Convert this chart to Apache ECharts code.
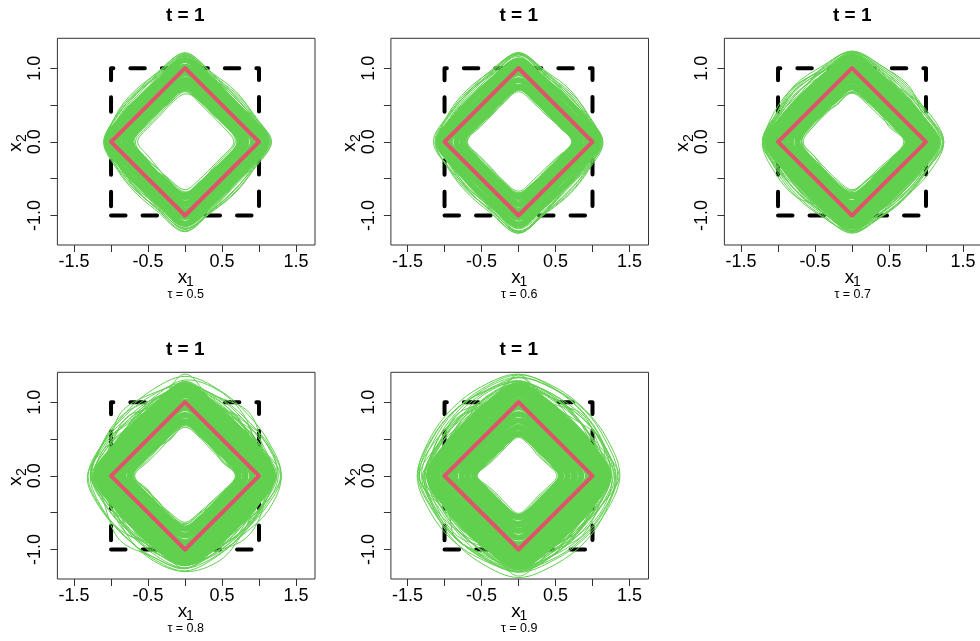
<!DOCTYPE html>
<html>
<head>
<meta charset="utf-8">
<script src="https://cdn.jsdelivr.net/npm/echarts@6/dist/echarts.min.js"></script>
<style>
html, body { margin: 0; padding: 0; background: #ffffff; }
#chart { width: 980px; height: 641px; }
</style>
</head>
<body>
<div id="chart"></div>
<script>
// Angles (degrees, counter-clockwise from the positive x1 axis) at which each contour radius is given.
const sampleAngles = [0, 22.5, 45, 67.5, 90, 112.5, 135, 157.5, 180, 202.5, 225, 247.5, 270, 292.5, 315, 337.5];

const tauValues = [0.5, 0.6, 0.7, 0.8, 0.9];
const panelTitle = 't = 1';

const xTicks = [-1.5, -1, -0.5, 0, 0.5, 1, 1.5];
const xTickLabels = [-1.5, -0.5, 0.5, 1.5];
const yTicks = [-1, -0.5, 0, 0.5, 1];
const yTickLabels = [-1, 0, 1];

// True level set |x1| + |x2| = 1 and the square [-1, 1]^2.
const diamondX1 = [1, 0, -1, 0, 1];
const diamondX2 = [0, 1, 0, -1, 0];
const squareX1 = [-1, 1, 1, -1, -1];
const squareX2 = [-1, -1, 1, 1, -1];

// Estimated contours, radius x 100 at each sample angle.
// "core" contours sit in the dense middle of each band, "curves" spread over the whole band.
const coreTau05 = [
  [75,62,57,62,76,61,57,62,74,62,58,61,75,62,57,62],
  [83,68,63,69,84,68,64,68,82,69,63,68,84,69,63,68],
  [92,76,70,76,93,75,70,76,90,76,71,75,93,76,70,76],
  [101,83,77,83,102,83,77,83,98,83,78,83,102,84,77,83],
  [109,90,84,91,111,90,84,90,106,91,85,90,111,91,84,91]
];
const curvesTau05 = [
  [70,59,53,59,65,54,49,53,64,53,51,58,69,60,55,61],
  [66,55,51,55,69,60,55,58,69,57,52,55,65,54,50,54],
  [68,60,56,58,68,56,51,55,67,58,55,59,70,58,52,56],
  [72,58,53,57,70,59,56,60,70,57,52,56,68,59,56,61],
  [71,61,57,60,72,58,53,57,72,61,57,59,71,57,53,59],
  [75,63,56,58,71,60,57,62,75,62,55,58,72,62,58,63],
  [77,62,58,64,76,61,56,60,73,60,58,63,77,64,59,62],
  [80,68,61,62,76,66,61,63,78,65,60,65,79,63,59,66],
  [86,71,66,71,88,72,65,69,84,70,67,73,88,71,64,70],
  [91,78,71,74,90,76,73,78,90,75,70,75,93,79,72,75],
  [97,80,73,79,99,81,75,80,94,79,75,81,96,78,73,80],
  [101,84,79,84,103,83,77,82,98,84,79,83,103,86,79,84],
  [106,89,81,86,108,91,84,88,101,86,81,88,109,89,83,90],
  [109,91,85,92,112,89,83,90,104,90,86,92,112,92,84,89],
  [112,95,86,90,114,95,88,93,103,89,85,93,115,96,88,93],
  [110,96,90,95,117,93,86,92,106,94,90,95,114,93,87,95],
  [115,94,88,96,118,98,90,94,107,92,88,96,119,97,89,94],
  [113,98,93,94,116,96,93,98,109,97,91,94,117,99,94,97],
  [117,97,90,98,121,99,92,95,106,93,92,99,121,98,90,96],
  [114,100,95,97,119,97,95,99,108,98,94,97,118,100,96,99],
  [112,99,97,100,120,101,94,97,110,99,96,101,122,99,93,98],
  [116,96,92,99,117,100,97,100,105,95,93,98,118,101,97,100],
  [74,58,60,66,70,56,58,64,72,57,57,65,70,57,60,65],
  [84,64,63,72,80,65,62,70,82,64,64,71,81,66,62,70]
];

const coreTau06 = [
  [76,62,57,62,75,62,57,62,76,62,57,62,75,62,58,62],
  [84,69,64,69,84,69,64,69,84,69,64,69,85,69,64,69],
  [92,77,71,77,93,77,71,76,93,77,71,77,94,77,71,77],
  [100,84,78,84,102,84,78,84,101,84,78,84,103,85,78,84],
  [107,92,86,91,110,91,86,91,108,91,86,92,112,92,86,91]
];
const curvesTau06 = [
  [74,58,52,56,68,56,51,55,70,56,52,56,67,55,51,56],
  [77,60,54,58,71,58,53,57,69,55,51,57,69,58,54,59],
  [72,58,55,60,70,56,52,57,72,59,55,58,71,58,53,57],
  [79,63,57,60,72,59,56,61,74,62,57,60,70,59,56,62],
  [76,61,58,63,75,62,56,59,71,59,57,62,74,62,59,63],
  [82,66,60,63,77,64,60,65,78,64,59,63,75,63,60,66],
  [80,67,62,67,81,65,60,64,76,63,61,66,79,67,63,67],
  [86,70,63,67,82,69,64,69,83,70,64,67,80,67,63,70],
  [89,73,68,74,90,74,67,71,86,71,68,75,90,74,67,72],
  [94,79,72,76,93,77,74,79,93,77,71,76,95,80,74,77],
  [99,82,75,81,101,83,77,81,96,80,77,83,99,80,75,82],
  [102,86,81,86,106,85,78,84,101,86,81,85,106,88,81,86],
  [106,90,83,88,110,93,86,90,104,88,83,90,112,91,85,91],
  [109,92,87,94,114,91,85,92,107,93,88,94,116,94,86,91],
  [111,96,88,92,116,97,90,95,106,91,87,95,118,98,90,95],
  [108,97,92,97,119,95,88,94,110,96,92,97,117,95,89,97],
  [113,95,90,98,120,100,92,96,111,94,90,98,122,99,91,96],
  [112,99,95,96,118,98,95,100,113,99,93,96,121,101,96,99],
  [114,98,92,100,121,101,94,97,109,95,94,101,124,100,92,98],
  [111,101,97,99,121,99,97,101,115,100,96,99,123,102,98,101],
  [110,100,99,102,120,103,96,99,112,101,98,103,124,101,95,100],
  [114,97,94,101,118,102,99,102,108,97,95,100,121,103,99,102],
  [75,58,61,67,71,57,59,65,73,58,58,66,70,58,61,66],
  [86,65,64,73,82,66,63,71,84,65,65,72,82,67,63,71]
];

const coreTau07 = [
  [76,62,57,62,74,62,57,62,74,62,57,62,74,62,57,62],
  [84,69,64,69,83,69,64,69,83,69,64,69,83,69,64,69],
  [92,77,71,77,91,77,71,77,91,77,71,77,91,77,71,77],
  [100,84,78,84,100,84,78,84,99,84,78,84,100,84,78,84],
  [108,91,85,91,108,91,85,91,107,91,85,91,108,91,85,91],
  [114,97,91,97,115,97,91,97,114,97,91,97,115,97,91,97]
];
const curvesTau07 = [
  [72,56,51,55,66,55,52,56,66,54,51,55,65,55,51,57],
  [70,58,54,58,68,57,53,56,69,57,53,57,67,56,53,58],
  [74,59,54,57,67,58,55,60,68,58,55,59,69,59,54,58],
  [73,61,57,61,71,59,55,59,71,60,57,61,70,60,56,59],
  [77,62,57,60,72,61,58,62,73,61,57,60,71,62,58,61],
  [79,65,60,64,75,62,58,63,76,65,61,64,74,63,59,63],
  [81,66,61,66,78,66,62,65,77,64,61,66,77,66,62,66],
  [85,70,64,68,82,70,65,70,81,68,64,68,81,69,65,70],
  [89,74,69,74,88,72,67,72,86,73,69,75,87,74,68,73],
  [96,80,74,78,95,80,75,80,93,78,74,79,96,80,75,79],
  [102,85,80,86,104,87,81,86,101,85,79,85,103,87,81,86],
  [107,92,86,90,109,91,87,93,108,93,88,92,111,92,86,91],
  [112,95,90,96,114,97,92,96,111,95,90,96,113,97,92,96],
  [114,100,95,98,118,99,95,100,115,100,96,98,117,100,96,100],
  [118,101,96,102,121,103,99,103,117,101,97,103,120,103,97,102],
  [120,104,100,103,119,104,103,106,120,105,101,103,122,105,100,104],
  [122,106,102,106,123,107,105,106,119,104,101,106,124,107,103,106],
  [124,107,104,108,121,106,107,108,121,107,104,108,123,108,104,107],
  [119,108,106,110,122,110,109,109,117,109,106,109,121,109,105,108],
  [123,104,99,106,118,103,104,108,121,106,100,104,120,104,101,107],
  [72,54,55,62,68,54,55,61,68,54,54,61,67,55,55,61],
  [83,62,61,69,80,62,61,69,80,62,62,69,80,62,61,69],
  [104,90,79,88,110,88,82,92,106,88,81,88,108,92,80,90],
  [113,94,93,100,116,96,91,101,112,97,92,99,118,98,91,100],
  [118,100,96,104,120,99,100,105,116,103,97,101,121,101,96,103],
  [97,85,73,82,100,86,75,85,98,82,75,86,99,87,73,83],
  [110,96,86,95,114,94,88,97,111,95,87,94,113,96,86,96],
  [116,101,97,99,119,104,99,103,119,99,98,104,118,104,97,101],
  [124,110,98,96,112,104,108,112,118,100,94,102,116,108,104,112],
  [108,102,108,110,123,108,96,104,121,112,106,96,110,100,99,104]
];

const coreTau08 = [
  [73,61,56,61,74,61,56,61,75,61,56,61,72,61,56,61],
  [82,68,63,68,83,68,63,68,84,68,63,68,81,68,63,68],
  [91,76,70,76,92,76,70,76,92,76,70,76,90,76,70,76],
  [100,83,77,83,101,83,77,83,100,83,77,83,99,83,77,83],
  [108,90,84,90,110,90,84,90,108,90,84,90,107,90,84,90],
  [114,97,91,97,117,97,91,97,115,97,91,97,113,97,91,97],
  [119,103,97,103,123,103,97,103,120,103,97,103,118,103,97,103]
];
const curvesTau08 = [
  [68,54,50,55,66,54,49,53,68,55,51,54,63,53,50,55],
  [70,55,52,57,68,57,52,55,70,54,50,56,65,55,51,56],
  [72,58,53,56,70,55,53,58,71,57,53,55,68,57,53,57],
  [69,53,55,60,69,53,54,60,69,53,54,59,66,54,55,60],
  [75,59,56,60,73,60,55,59,74,60,56,60,71,59,56,60],
  [78,62,58,64,76,61,59,63,77,63,58,62,74,62,58,63],
  [80,60,61,68,79,62,60,67,80,61,60,68,78,61,61,66],
  [83,67,62,66,81,68,63,67,82,66,63,68,80,68,62,67],
  [88,73,67,73,90,72,68,74,89,73,68,72,88,73,67,73],
  [96,82,74,79,98,83,76,83,95,80,75,84,95,84,74,80],
  [100,82,78,86,106,84,80,88,103,86,77,83,101,86,79,85],
  [110,95,88,94,115,93,91,97,112,95,89,93,110,96,90,95],
  [114,100,96,98,118,101,95,103,116,97,97,102,114,101,95,98],
  [118,103,97,104,122,102,102,104,119,104,98,103,117,103,100,103],
  [121,104,103,106,126,108,103,106,122,105,104,108,120,108,103,106],
  [124,110,104,110,128,107,108,111,125,110,106,108,122,108,107,111],
  [126,118,113,116,122,110,101,103,110,100,96,102,114,108,107,115],
  [113,106,105,113,126,118,115,119,127,114,107,107,114,102,97,101],
  [119,106,98,100,107,98,94,101,113,108,106,114,125,116,111,113],
  [120,108,103,108,119,111,108,116,128,120,115,120,129,117,110,112],
  [121,110,104,105,110,98,91,94,103,95,94,101,114,108,107,112],
  [130,122,119,125,135,124,117,119,126,113,107,111,121,112,109,117],
  [113,103,99,106,119,113,111,119,131,121,116,118,125,111,103,105],
  [119,113,110,115,123,111,103,104,109,97,90,95,105,99,97,106],
  [129,108,98,108,124,110,104,118,128,106,101,110,122,108,100,112],
  [112,106,110,102,128,104,112,108,115,109,111,104,126,107,108,106],
  [120,100,106,112,120,104,99,110,124,110,104,103,118,112,106,100],
  [118,110,99,104,138,102,106,114,122,101,108,112,116,104,102,110],
  [108,98,92,98,112,100,94,100,110,99,92,98,111,98,93,99],
  [130,118,104,100,116,112,118,120,126,110,100,106,120,114,112,122],
  [106,112,122,116,124,106,100,112,132,122,112,100,108,110,118,114],
  [116,104,114,124,130,114,104,100,114,116,124,118,126,106,98,104],
  [124,120,108,106,122,120,122,110,110,104,112,122,130,124,110,104]
];

const coreTau09 = [
  [58,49,45,49,57,49,45,49,60,49,45,49,56,49,45,49],
  [67,56,52,56,66,56,52,56,69,56,52,56,66,56,52,56],
  [76,64,59,64,75,64,59,64,77,64,59,64,75,64,59,64],
  [85,71,66,71,84,71,66,71,86,71,66,71,84,71,66,71],
  [94,79,73,79,93,79,73,79,94,79,73,79,93,79,73,79],
  [102,86,80,86,102,86,80,86,102,86,80,86,102,86,80,86],
  [110,94,87,94,110,94,87,94,110,94,87,94,110,94,87,94],
  [116,100,94,100,117,100,94,100,116,100,94,100,117,100,94,100],
  [121,106,100,106,123,106,100,106,121,106,100,106,123,106,100,106]
];
const curvesTau09 = [
  [52,42,38,43,52,43,39,43,56,42,38,42,51,42,38,42],
  [55,43,40,45,54,45,41,44,57,44,40,45,53,44,40,44],
  [54,45,42,45,56,43,42,46,58,46,42,44,55,46,42,45],
  [58,46,44,50,56,46,45,49,59,46,43,49,56,46,44,48],
  [60,49,45,48,59,49,46,49,61,48,46,49,58,48,45,49],
  [63,51,47,52,61,51,48,52,64,51,48,52,60,52,47,51],
  [65,50,50,56,63,51,49,56,66,51,50,55,62,51,50,56],
  [68,55,51,55,66,55,52,56,69,55,52,55,65,55,51,56],
  [72,58,55,59,70,58,55,58,72,59,55,59,70,58,56,59],
  [80,65,61,66,78,66,62,65,80,65,61,66,78,66,61,65],
  [88,72,68,73,86,72,68,73,88,73,68,72,86,72,68,73],
  [96,80,75,80,95,80,76,81,96,80,75,80,94,81,75,80],
  [106,90,86,91,108,92,86,90,107,90,87,92,106,91,86,90],
  [112,98,93,97,114,97,94,99,113,98,93,97,113,98,94,98],
  [117,103,99,104,120,104,100,103,118,102,100,104,119,103,99,104],
  [121,108,105,108,125,108,106,109,123,109,105,108,124,109,105,108],
  [125,113,110,113,129,114,111,113,127,113,111,114,128,114,110,113],
  [134,127,126,127,133,122,117,116,122,113,110,113,123,118,119,124],
  [118,112,112,118,129,124,124,127,134,124,120,118,123,112,108,110],
  [132,121,116,115,122,114,113,117,128,123,124,129,138,130,127,127],
  [131,122,116,115,118,108,103,105,113,108,108,115,126,122,121,125],
  [128,123,123,128,138,131,128,130,136,125,120,120,126,117,114,118],
  [114,105,101,104,113,109,109,116,126,121,119,122,127,117,111,110],
  [137,130,127,130,137,128,123,124,131,122,119,122,131,124,123,128],
  [125,120,118,120,125,115,108,107,111,102,98,102,111,107,108,115],
  [119,111,111,116,127,123,124,128,137,129,125,124,129,118,112,112],
  [125,122,122,127,134,126,120,120,123,112,106,107,114,108,108,114],
  [130,112,104,115,122,108,112,122,135,112,104,110,126,114,106,118],
  [118,116,120,108,134,110,118,114,122,118,116,108,136,112,118,116],
  [126,108,112,120,126,116,104,114,128,120,110,106,122,110,114,122],
  [114,122,108,104,137,106,114,120,118,104,120,116,130,118,104,110],
  [124,104,98,110,118,112,108,104,130,108,100,112,124,104,110,108],
  [108,100,96,102,116,102,98,104,112,101,97,103,114,102,96,101],
  [136,115,110,118,128,120,112,116,134,116,113,120,130,118,111,117]
];

const coreByPanel = [coreTau05, coreTau06, coreTau07, coreTau08, coreTau09];
const curvesByPanel = [curvesTau05, curvesTau06, curvesTau07, curvesTau08, curvesTau09];

// ---- styling / layout ----
const GREEN = '#61D04F';
const RED = '#DF536B';
const FONT = '"Liberation Sans", Arial, Helvetica, sans-serif';
const PANEL_STEP_X = 333.5;
const PANEL_STEP_Y = 334;
const BOX_LEFT = 57.4;
const BOX_TOP = 38.3;
const BOX_W = 257.6;
const BOX_H = 206.7;
const X_MIN = -1.725, X_MAX = 1.757;
const Y_MIN = -1.40, Y_MAX = 1.405;

const chart = echarts.init(document.getElementById('chart'), null, { renderer: 'canvas' });

const grids = [], xAxes = [], yAxes = [], series = [], graphics = [];

function contourSeries(list, panel, lineWidth) {
  return {
    type: 'custom',
    xAxisIndex: panel,
    yAxisIndex: panel,
    coordinateSystem: 'cartesian2d',
    silent: true,
    clip: true,
    z: 2,
    data: list.map(() => [0, 0]),
    renderItem: function (params, api) {
      const radii = list[params.dataIndex];
      const pts = radii.map(function (r, k) {
        const a = sampleAngles[k] * Math.PI / 180;
        return api.coord([r / 100 * Math.cos(a), r / 100 * Math.sin(a)]);
      });
      return {
        type: 'polygon',
        shape: { points: pts, smooth: 0.35 },
        style: { fill: 'none', stroke: GREEN, lineWidth: lineWidth }
      };
    }
  };
}

tauValues.forEach(function (tau, i) {
  const col = i % 3, row = Math.floor(i / 3);
  const left = BOX_LEFT + PANEL_STEP_X * col;
  const top = BOX_TOP + PANEL_STEP_Y * row;
  const cx = left + BOX_W / 2;

  grids.push({
    left: left, top: top, width: BOX_W, height: BOX_H,
    show: true, borderColor: '#333', borderWidth: 1, backgroundColor: 'transparent',
    containLabel: false, outerBoundsMode: 'none'
  });

  xAxes.push({
    gridIndex: i, type: 'value', min: X_MIN, max: X_MAX,
    axisLine: { show: false, onZero: false },
    splitLine: { show: false },
    axisTick: { show: true, length: 7, customValues: xTicks, lineStyle: { color: '#333', width: 1 } },
    axisLabel: {
      customValues: xTickLabels,
      formatter: function (v) { return Number(v).toFixed(1); },
      fontFamily: FONT, fontSize: 18, color: '#000', margin: 8
    }
  });

  yAxes.push({
    gridIndex: i, type: 'value', min: Y_MIN, max: Y_MAX,
    axisLine: { show: false, onZero: false },
    splitLine: { show: false },
    axisTick: { show: true, length: 7, customValues: yTicks, lineStyle: { color: '#333', width: 1 } },
    axisLabel: {
      customValues: yTickLabels,
      formatter: function (v) { return Number(v).toFixed(1); },
      rotate: 90, align: 'center', verticalAlign: 'bottom',
      fontFamily: FONT, fontSize: 18, color: '#000', margin: 13
    }
  });

  // dashed square underneath the contours
  series.push({
    type: 'line', xAxisIndex: i, yAxisIndex: i, silent: true, z: 1,
    symbol: 'none', showSymbol: false, animation: false,
    data: squareX1.map(function (x, k) { return [x, squareX2[k]]; }),
    lineStyle: { color: '#000', width: 4, type: [14.5, 17], dashOffset: 0, cap: 'round', join: 'round' }
  });

  series.push(contourSeries(coreByPanel[i], i, 6));
  series.push(contourSeries(curvesByPanel[i], i, 1));

  // true level set on top
  series.push({
    type: 'line', xAxisIndex: i, yAxisIndex: i, silent: true, z: 3,
    symbol: 'none', showSymbol: false, animation: false,
    data: diamondX1.map(function (x, k) { return [x, diamondX2[k]]; }),
    lineStyle: { color: RED, width: 4, cap: 'round', join: 'round' }
  });

  // panel title
  graphics.push({
    type: 'text', x: cx - 1, y: top - 23, silent: true,
    style: { text: panelTitle, font: 'bold 19px ' + FONT, fill: '#000', align: 'center', verticalAlign: 'middle' }
  });
  // x1 axis title with subscript
  graphics.push({
    type: 'text', x: left + 125.1, y: top + 239.5, silent: true,
    style: { text: 'x', font: '19px ' + FONT, fill: '#000', align: 'center', verticalAlign: 'middle' }
  });
  graphics.push({
    type: 'text', x: left + 132.6, y: top + 244.2, silent: true,
    style: { text: '1', font: '14px ' + FONT, fill: '#000', align: 'center', verticalAlign: 'middle' }
  });
  // tau annotation
  graphics.push({
    type: 'text', x: cx - 0.5, y: top + 256.2, silent: true,
    style: { text: 'τ = ' + tau.toFixed(1), font: '12.5px ' + FONT, fill: '#000', align: 'center', verticalAlign: 'middle' }
  });
  // x2 axis title, rotated
  graphics.push({
    type: 'group', x: left - 39.4, y: top + 103.7, rotation: Math.PI / 2, silent: true,
    children: [
      { type: 'text', x: -5, y: -1.8, style: { text: 'x', font: '19px ' + FONT, fill: '#000', align: 'center', verticalAlign: 'middle' } },
      { type: 'text', x: 4, y: 4.5, style: { text: '2', font: '14px ' + FONT, fill: '#000', align: 'center', verticalAlign: 'middle' } }
    ]
  });
});

chart.setOption({
  animation: false,
  backgroundColor: '#ffffff',
  grid: grids,
  xAxis: xAxes,
  yAxis: yAxes,
  series: series,
  graphic: graphics
});
</script>
</body>
</html>
